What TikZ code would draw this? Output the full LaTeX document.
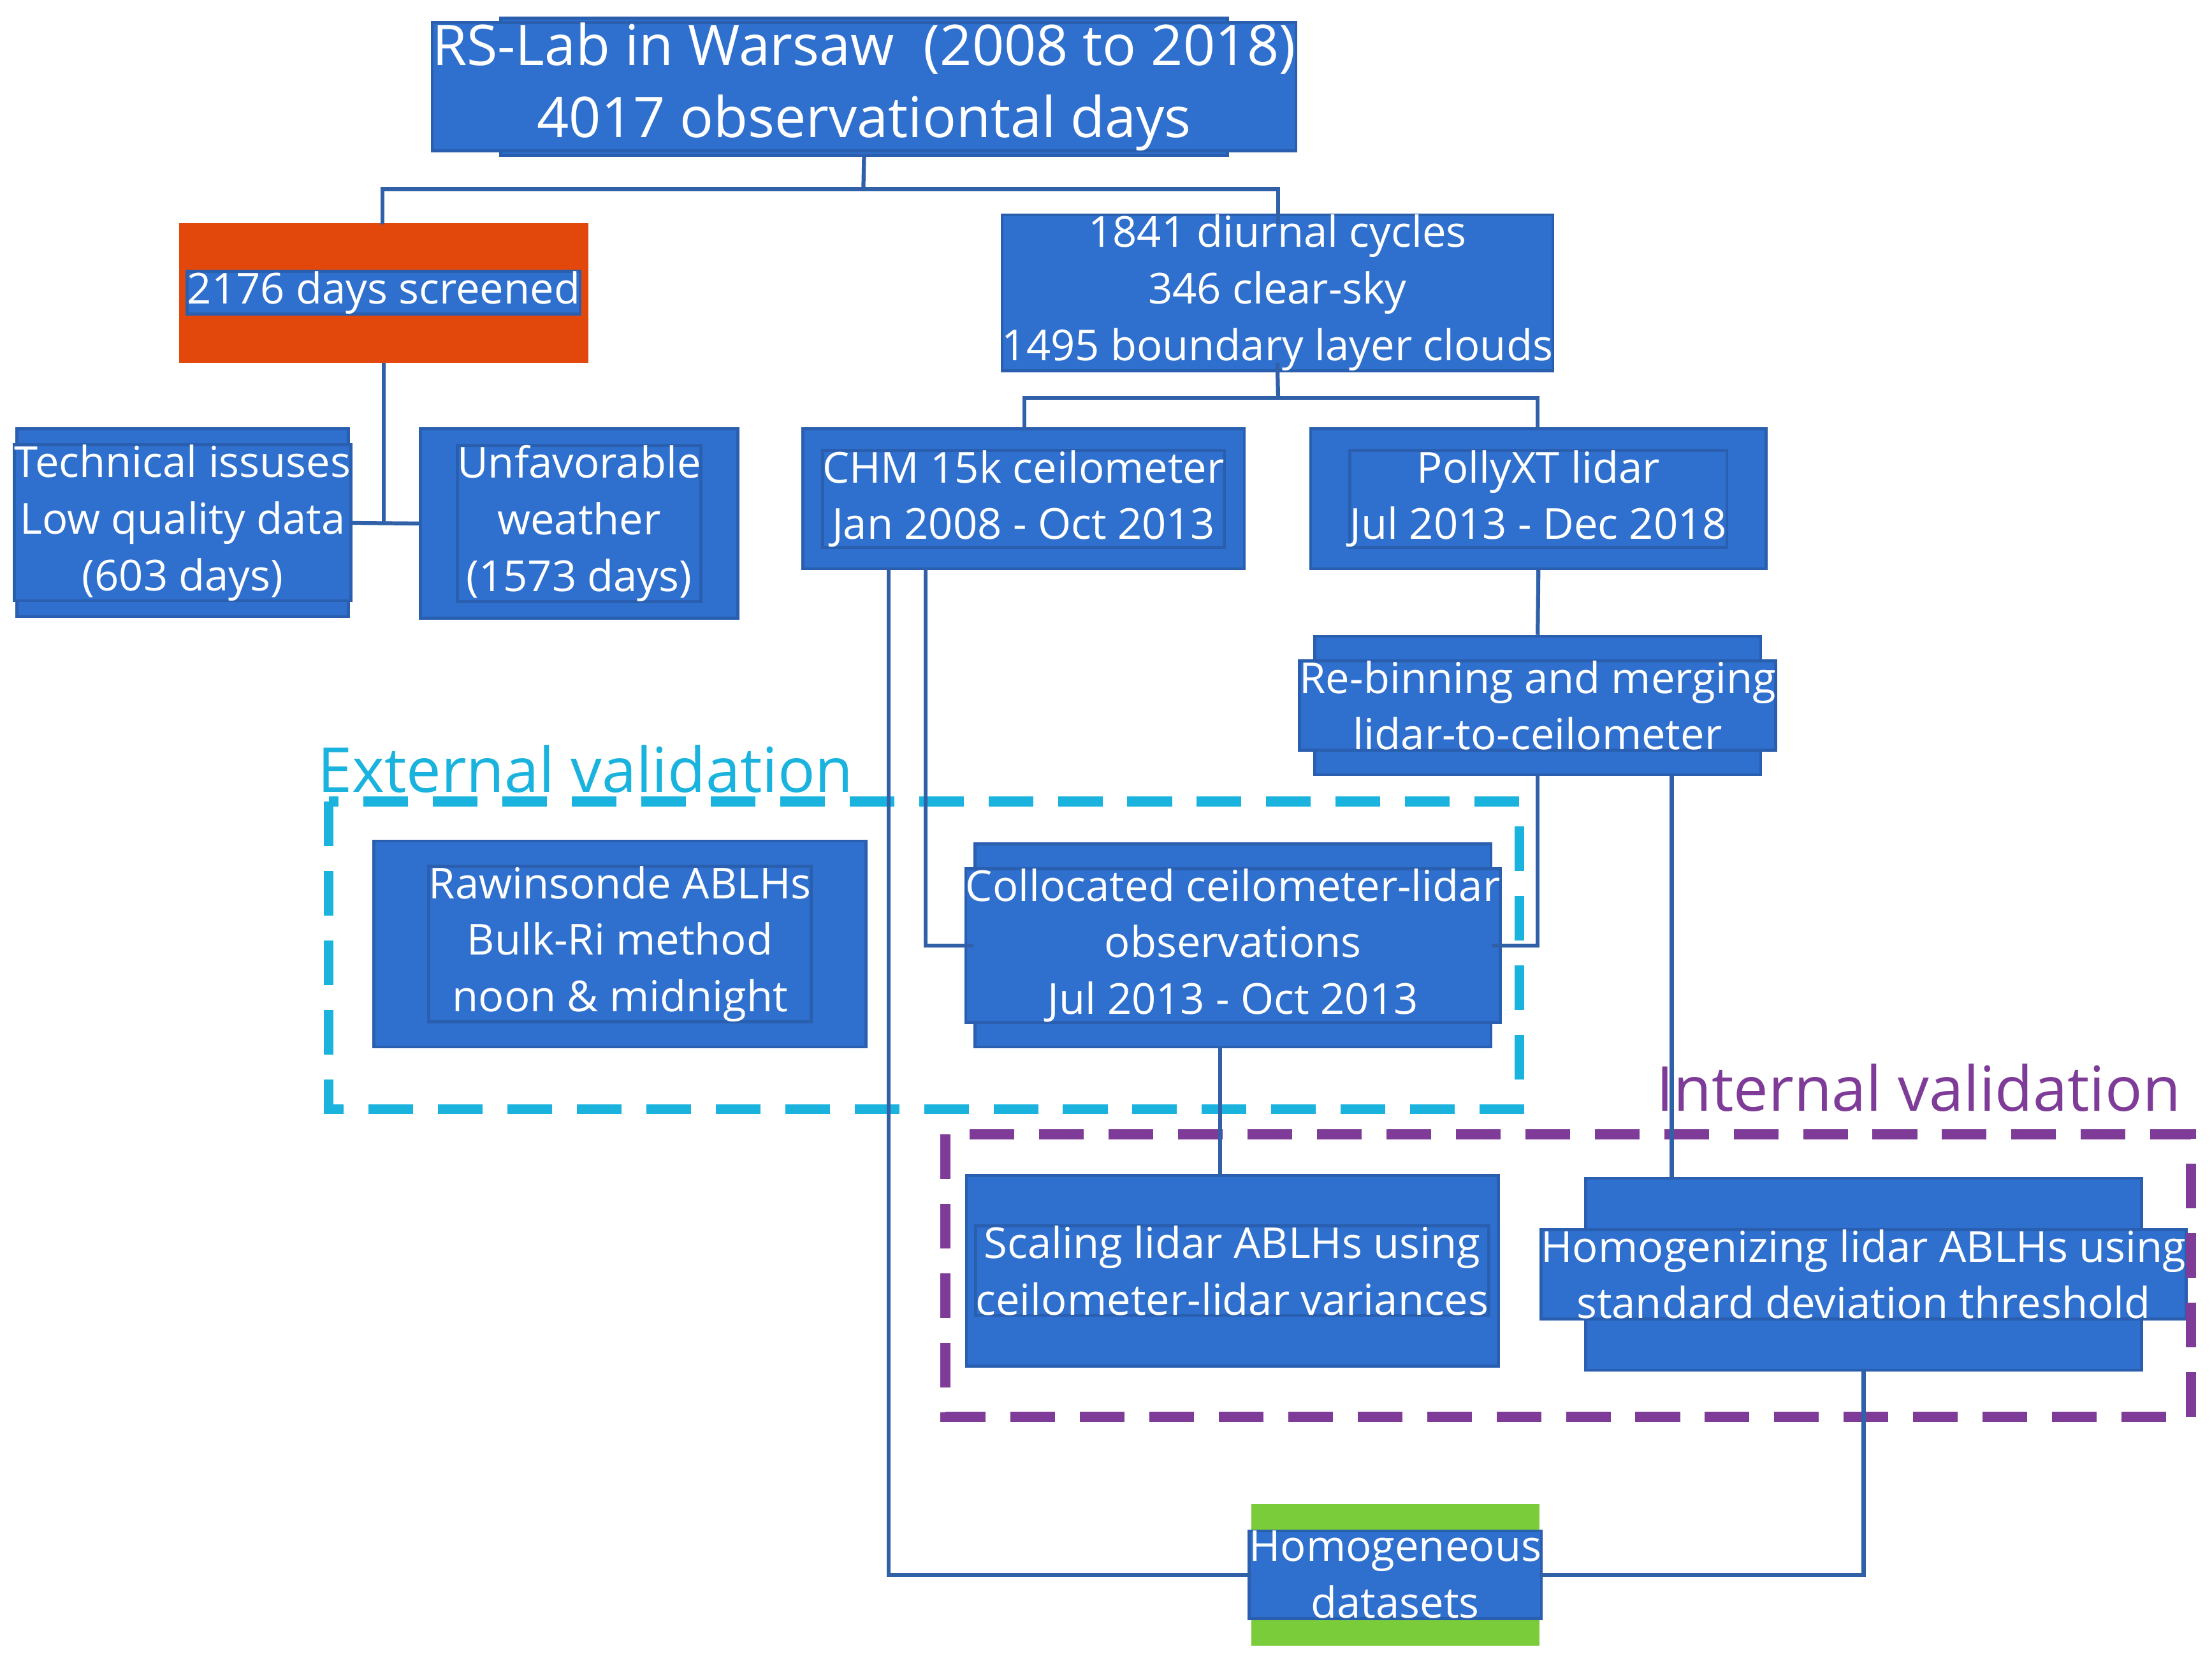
\documentclass[tikz,border=0pt]{standalone}
\usepackage{fontspec}
\setmainfont{Open Sans}
\definecolor{bx}{HTML}{2F70CE}
\definecolor{bxd}{HTML}{2A5FB0}
\definecolor{rd}{HTML}{E2470C}
\definecolor{gr}{HTML}{328A2C}
\definecolor{lg}{HTML}{7ACC3A}
\definecolor{ln}{HTML}{3060A8}
\definecolor{cy}{HTML}{19B3DE}
\definecolor{pu}{HTML}{7E3C98}
\begin{document}
\begin{tikzpicture}[x=0.01cm,y=-0.01cm,
  bx/.style={fill=bx,draw=bxd,line width=0.6pt,text=white,align=center,font=\fontsize{8.6}{11.4}\selectfont,inner sep=0pt},
  ln/.style={draw=ln,line width=0.8pt},
  dsh/.style={line width=2pt,dash pattern=on 9pt off 5pt}]
\useasboundingbox (0,0) rectangle (1568,1172);
\newcommand{\bxn}[6]{\node[bx,#6,minimum width={(#3-#2)*0.01cm},minimum height={(#5-#4)*0.01cm}] (#1) at ({(#2+#3)/2},{(#4+#5)/2}) {};}
\bxn{top}{355}{870}{13}{110}{}
\bxn{red}{128}{416}{159}{256}{fill=rd,draw=rd}
\bxn{grn}{718}{1093}{159}{256}{fill=gr,draw=gr}
\bxn{tech}{12}{247}{304}{437}{}
\bxn{unf}{298}{523}{304}{438}{}
\bxn{chm}{569}{882}{304}{403}{}
\bxn{pol}{929}{1252}{304}{403}{}
\bxn{reb}{932}{1248}{451}{549}{}
\bxn{raw}{265}{614}{596}{742}{}
\bxn{col}{691}{1057}{598}{742}{}
\bxn{sca}{685}{1062}{833}{968}{}
\bxn{hom}{1124}{1518}{835}{971}{}
\bxn{hds}{888}{1090}{1067}{1165}{fill=lg,draw=lg}
\node[bx,font=\fontsize{11.3}{14.5}\selectfont] at (top) {RS-Lab in Warsaw\ \ (2008 to 2018)\\4017 observationtal days};
\node[bx] at (red) {2176 days screened};
\node[bx] at (grn) {1841 diurnal cycles\\346 clear-sky\\1495 boundary layer clouds};
\node[bx] at (tech) {Technical issuses\\Low quality data\\(603 days)};
\node[bx] at (unf) {Unfavorable\\weather\\(1573 days)};
\node[bx] at (chm) {CHM 15k ceilometer\\Jan 2008 - Oct 2013};
\node[bx] at (pol) {PollyXT lidar\\Jul 2013 - Dec 2018};
\node[bx] at (reb) {Re-binning and merging\\lidar-to-ceilometer};
\node[bx] at (raw) {Rawinsonde ABLHs\\Bulk-Ri method\\noon \& midnight};
\node[bx] at (col) {Collocated ceilometer-lidar\\observations\\Jul 2013 - Oct 2013};
\node[bx] at (sca) {Scaling lidar ABLHs using\\ceilometer-lidar variances};
\node[bx] at (hom) {Homogenizing lidar ABLHs using\\standard deviation threshold};
\node[bx] at (hds) {Homogeneous\\datasets};
\draw[cy,dsh] (233,568) rectangle (1077,786);
\draw[pu,dsh] (670,804) rectangle (1553,1004);
\node[text=cy,font=\fontsize{12.5}{14}\selectfont] (ext) at (415,545) {External validation};
\node[text=pu,font=\fontsize{12.5}{14}\selectfont] (int) at (1360,771) {Internal validation};
\coordinate (t1) at (612,134);
\draw[ln] (top.south) -- (t1);
\draw[ln] (271,159) |- (t1) -| (906,159);
\draw[ln] (red.south) -- (272,372);
\draw[ln] (tech.east) -- (unf.west);
\draw[ln] (grn.south) -- (906,282);
\draw[ln] (726,304) |- (906,282) -| (1090,304);
\draw[ln] (630,403) |- (hds.west);
\draw[ln] (656,403) |- (col.west);
\draw[ln] (pol.south) -- (reb.north);
\draw[ln] (1090,549) |- (col.east);
\draw[ln] (1185,549) -- (1185,835);
\draw[ln] (865,742) -- (865,833);
\draw[ln] (1321,971) |- (hds.east);
\end{tikzpicture}
\end{document}
